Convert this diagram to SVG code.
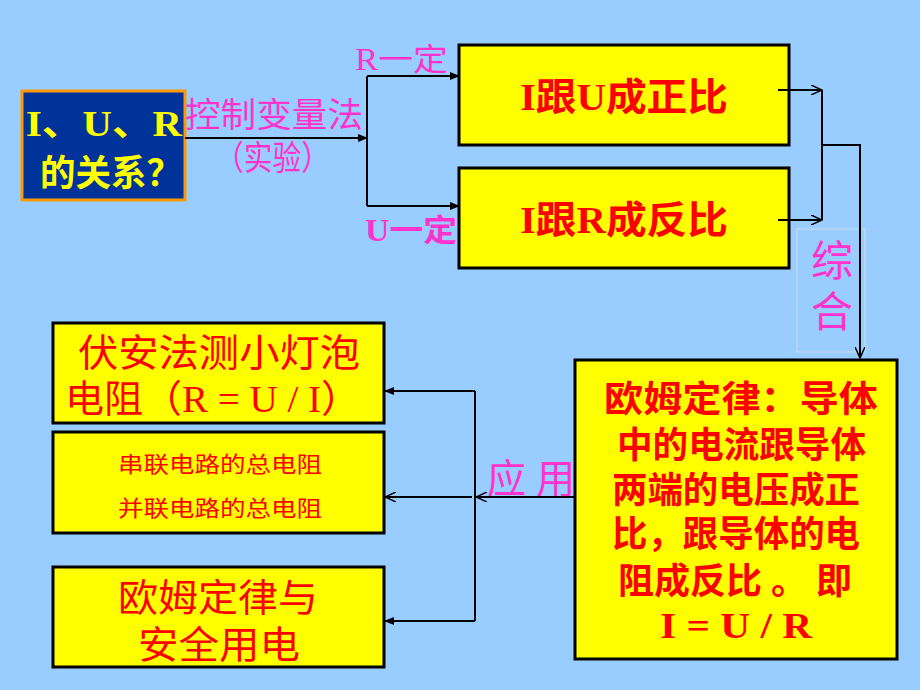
<svg xmlns="http://www.w3.org/2000/svg" width="920" height="690" viewBox="0 0 920 690">
<style>
.y{fill:#ffff00;stroke:#000;stroke-width:3}
.t{font-family:"Liberation Serif","Noto Sans CJK SC",serif;fill:#ff0000;font-weight:bold}
.p{font-family:"Liberation Serif","Noto Sans CJK SC",serif;fill:#ff33cc}
.c{stroke:#000;stroke-width:2;fill:none}
</style>
<defs>
<marker id="a" markerWidth="10" markerHeight="8" refX="9" refY="4" orient="auto" markerUnits="userSpaceOnUse"><path d="M0,0 L10,4 L0,8 Z" fill="#000"/></marker>
<marker id="o" markerWidth="12" markerHeight="10" refX="11" refY="5" orient="auto" markerUnits="userSpaceOnUse"><path d="M0,0 L11,5 L0,10" fill="none" stroke="#000" stroke-width="1.5"/></marker>
</defs>
<rect width="920" height="690" fill="#99ccff"/>
<g id="start"><rect x="22" y="91" width="163" height="109" fill="#003399" stroke="#ff9900" stroke-width="3"/>
<text class="t" x="26" y="136" font-size="36" textLength="156" lengthAdjust="spacingAndGlyphs" style="fill:#ffff00">I、U、R</text>
<text class="t" x="40" y="186" font-size="36" textLength="142" lengthAdjust="spacingAndGlyphs" style="fill:#ffff00">的关系？</text></g>
<g id="b1"><rect class="y" x="459" y="45" width="330" height="100"/><text class="t" x="520" y="110" font-size="38" textLength="208" lengthAdjust="spacingAndGlyphs">I跟U成正比</text></g>
<g id="b2"><rect class="y" x="459" y="168" width="330" height="100"/><text class="t" x="520" y="233" font-size="38" textLength="208" lengthAdjust="spacingAndGlyphs">I跟R成反比</text></g>
<g id="ohm"><rect class="y" x="575" y="360" width="322" height="299"/>
<g class="t" font-size="36" lengthAdjust="spacingAndGlyphs">
<text x="604" y="412" textLength="274" lengthAdjust="spacingAndGlyphs">欧姆定律：导体</text>
<text x="617" y="458" textLength="249" lengthAdjust="spacingAndGlyphs">中的电流跟导体</text>
<text x="612" y="503" textLength="248" lengthAdjust="spacingAndGlyphs">两端的电压成正</text>
<text x="612" y="547" textLength="248" lengthAdjust="spacingAndGlyphs">比，跟导体的电</text>
<text x="618" y="594" textLength="234" lengthAdjust="spacingAndGlyphs">阻成反比 。 即</text>
<text x="660" y="638" textLength="152" lengthAdjust="spacingAndGlyphs">I = U / R</text></g></g>
<g id="a1"><rect class="y" x="53" y="323" width="331" height="100"/>
<text class="t" x="78" y="366" font-size="38" textLength="282" lengthAdjust="spacingAndGlyphs" style="font-weight:normal">伏安法测小灯泡</text>
<text class="t" x="65" y="412" font-size="38" textLength="295" lengthAdjust="spacingAndGlyphs" style="font-weight:normal">电阻（R = U / I）</text></g>
<g id="a2"><rect class="y" x="53" y="432" width="331" height="101"/>
<text class="t" x="118" y="472" font-size="22" textLength="204" lengthAdjust="spacingAndGlyphs" style="font-weight:normal">串联电路的总电阻</text>
<text class="t" x="118" y="516" font-size="22" textLength="204" lengthAdjust="spacingAndGlyphs" style="font-weight:normal">并联电路的总电阻</text></g>
<g id="a3"><rect class="y" x="53" y="567" width="331" height="100"/>
<text class="t" x="118" y="611" font-size="38" textLength="200" lengthAdjust="spacingAndGlyphs" style="font-weight:normal">欧姆定律与</text>
<text class="t" x="138" y="658" font-size="38" textLength="162" lengthAdjust="spacingAndGlyphs" style="font-weight:normal">安全用电</text></g>
<g id="labels">
<text class="p" x="185" y="127" font-size="34" textLength="178" lengthAdjust="spacingAndGlyphs">控制变量法</text>
<text class="p" x="215" y="170" font-size="34" textLength="115" lengthAdjust="spacingAndGlyphs">（实验）</text>
<text class="p" x="355" y="70" font-size="31" textLength="93" lengthAdjust="spacingAndGlyphs">R一定</text>
<text class="p" x="365" y="241" font-size="31" font-weight="bold" textLength="92" lengthAdjust="spacingAndGlyphs">U一定</text>
<rect x="797" y="229" width="68" height="123" fill="none" stroke="#ccddee" stroke-width="1"/>
<text class="p" x="832" y="276" font-size="42" text-anchor="middle">综</text>
<text class="p" x="832" y="327" font-size="42" text-anchor="middle">合</text>
<text class="p" x="487" y="493" font-size="40" textLength="88" lengthAdjust="spacingAndGlyphs">应 用</text>
</g>
<g id="connectors">
<path class="c" d="M185,138 H367" marker-end="url(#a)"/>
<path class="c" d="M367,76 V206"/>
<path class="c" d="M367,76 H459" marker-end="url(#a)"/>
<path class="c" d="M367,206 H459" marker-end="url(#a)"/>
<path class="c" d="M778,90 H822" marker-end="url(#o)"/>
<path class="c" d="M778,220 H822" marker-end="url(#o)"/>
<path class="c" d="M822,90 V220"/>
<path class="c" d="M822,145 H860 V358" marker-end="url(#o)"/>
<path class="c" d="M575,497 H476" marker-end="url(#o)"/>
<path class="c" d="M475,391 V621"/>
<path class="c" d="M475,391 H385" marker-end="url(#a)"/>
<path class="c" d="M472,497 H385" marker-end="url(#o)"/>
<path class="c" d="M475,621 H385" marker-end="url(#a)"/>
</g>
</svg>
